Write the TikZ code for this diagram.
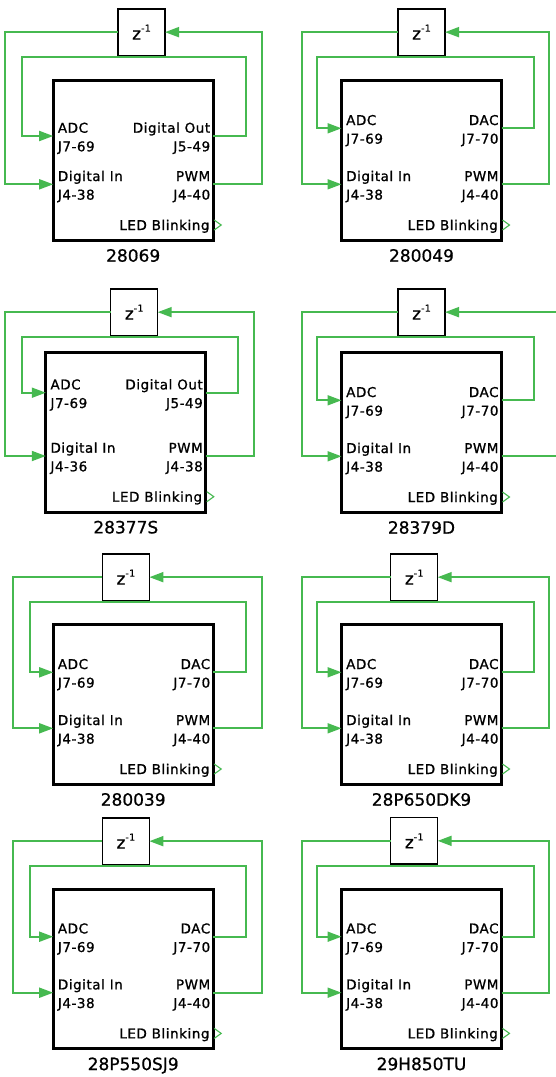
\documentclass[tikz,border=0pt]{standalone}
\usepackage{fontspec}
\setmainfont{DejaVu Sans}
\newfontfamily\portfont[LetterSpace=4,FakeBold=1]{DejaVu Sans}
\newfontfamily\lblfont[FakeBold=0.8]{DejaVu Sans}
\newfontfamily\zsupfam[LetterSpace=10,FakeBold=0.8]{DejaVu Sans}
\newcommand\zfont{\lblfont\fontsize{17}{17}\selectfont}
\newcommand\zsupfont{\zsupfam\fontsize{9.5}{9.5}\selectfont}
\usetikzlibrary{arrows.meta}
\definecolor{wiregreen}{RGB}{70,185,80}
\tikzset{
 wire/.style={draw=wiregreen, line width=1.8pt},
 intip/.style={-{Triangle[length=14pt,width=10pt]}},
 zbox/.style={draw=black, line width=1.3pt, fill=white, minimum width=47pt, minimum height=46.5pt, inner sep=0pt, outer sep=0pt},
 blk/.style={draw=black, line width=3pt, fill=white, minimum width=160pt, minimum height=159.5pt, inner sep=0pt, outer sep=0pt, anchor=north west},
 ptxt/.style={inner sep=0pt, font=\portfont\fontsize{13.5}{15}\selectfont},
 ltxt/.style={ptxt, anchor=base west},
 rtxt/.style={ptxt, anchor=base east},
 lbl/.style={inner sep=0pt, anchor=base, font=\lblfont\fontsize{17}{20}\selectfont},
 chev/.style={draw=wiregreen, line width=1.1pt},
}
% #1 prefix, #2 bx, #3 by, #4 zx, #5 zy, #6 outer-left x, #7 inner-left x, #8 inner-right x, #9 outer-right x
\newcommand\drawpanel[9]{%
 \node[blk] (#1b) at ({#2+1.5},{#3+1.5}) {};
 \node[zbox] (#1z) at ({#4+24.2},{#5+23.85}) {\zfont z\raisebox{8pt}{\zsupfont -\kern0.3pt 1}};
 \coordinate (#1adc) at ({#2+1.5},{#3+\pAdcOff});
 \coordinate (#1di) at ({#2+1.5},{#3+105});
 \coordinate (#1dac) at ({#2+161.5},{#3+\pAdcOff});
 \coordinate (#1pwm) at ({#2+161.5},{#3+105});
 \coordinate (#1ol) at ({#6},{#5+23.85});
 \coordinate (#1or) at ({#9},{#5+23.85});
 \coordinate (#1il) at ({#7},{#5+48.6});
 \coordinate (#1ir) at ({#8},{#5+48.6});
 \coordinate (#1ledA) at ({#2+162.5},{#3+140.7});
 \coordinate (#1ledB) at ({#2+169.5},{#3+145.7});
 \coordinate (#1ledC) at ({#2+162.5},{#3+150.7});
 \draw[wire,intip] (#1pwm) -| (#1or) -- (#1z.east);
 \draw[wire,intip] (#1z.west) -- (#1ol) |- (#1di);
 \draw[wire,intip] (#1dac) -| (#1ir) -- (#1il) |- (#1adc);
 \draw[chev] (#1ledA) -- (#1ledB) -- (#1ledC);
 \node[ltxt] (#1t1) at ({#2+6},{#3+\pAdcOff-3.3}) {ADC};
 \node[ltxt] (#1t2) at ({#2+6},{#3+\pAdcOff+15.3}) {J7-69};
 \node[ltxt] (#1t3) at ({#2+6},{#3+105-3.3}) {Digital In};
 \node[ltxt] (#1t4) at ({#2+6},{#3+105+15.3}) {\pDIpin};
 \node[rtxt] (#1t5) at ({#2+158.7},{#3+\pAdcOff-3.3}) {\pRtop};
 \node[rtxt] (#1t6) at ({#2+158.7},{#3+\pAdcOff+15.3}) {\pRpin};
 \node[rtxt] (#1t7) at ({#2+158.7},{#3+105-3.3}) {PWM};
 \node[rtxt] (#1t8) at ({#2+158.7},{#3+105+15.3}) {\pPWMpin};
 \node[rtxt] (#1t9) at ({#2+158},{#3+145.7+5}) {LED Blinking};
 \node[lbl] (#1lbl) at ({#2+81.5},{#3+182.4}) {\pLabel};
}
\begin{document}
\begin{tikzpicture}[x=1pt,y=-1pt]
\fill[white] (0,0) rectangle (555,1077);
\useasboundingbox (0,0) rectangle (555,1077);
% panel 1
\def\pAdcOff{56.7}\def\pRtop{Digital Out}\def\pRpin{J5-49}\def\pDIpin{J4-38}\def\pPWMpin{J4-40}\def\pLabel{28069}
\drawpanel{a}{51.7}{79.3}{117.3}{8.3}{5.3}{22}{246}{262}
% panel 2
\def\pAdcOff{49}\def\pRtop{DAC}\def\pRpin{J7-70}\def\pDIpin{J4-38}\def\pPWMpin{J4-40}\def\pLabel{280049}
\drawpanel{b}{340}{79.3}{397.3}{8.3}{301.7}{317.3}{534}{549.3}
% panel 3
\def\pAdcOff{41.7}\def\pRtop{Digital Out}\def\pRpin{J5-49}\def\pDIpin{J4-36}\def\pPWMpin{J4-38}\def\pLabel{28377S}
\drawpanel{c}{44.3}{351}{110}{288.3}{5.3}{22}{237.7}{254.3}
% panel 4
\def\pAdcOff{49}\def\pRtop{DAC}\def\pRpin{J7-70}\def\pDIpin{J4-38}\def\pPWMpin{J4-40}\def\pLabel{28379D}
\drawpanel{d}{340}{351.3}{397.3}{288.3}{301.7}{317.3}{534}{565}
% panel 5
\def\pAdcOff{49}\def\pRtop{DAC}\def\pRpin{J7-70}\def\pDIpin{J4-38}\def\pPWMpin{J4-40}\def\pLabel{280039}
\drawpanel{e}{51.7}{623.3}{101.7}{553.3}{13.3}{30}{246}{262.3}
% panel 6
\def\pLabel{28P650DK9}
\drawpanel{f}{340}{623.3}{390}{553.3}{301.7}{317.3}{534}{549.3}
% panel 7
\def\pLabel{28P550SJ9}
\drawpanel{g}{51.7}{887.7}{101.7}{817.3}{13.3}{30}{246}{262.3}
% panel 8
\def\pLabel{29H850TU}
\drawpanel{h}{340}{887.7}{390}{817}{301.7}{317.3}{534}{549.3}
\end{tikzpicture}
\end{document}
